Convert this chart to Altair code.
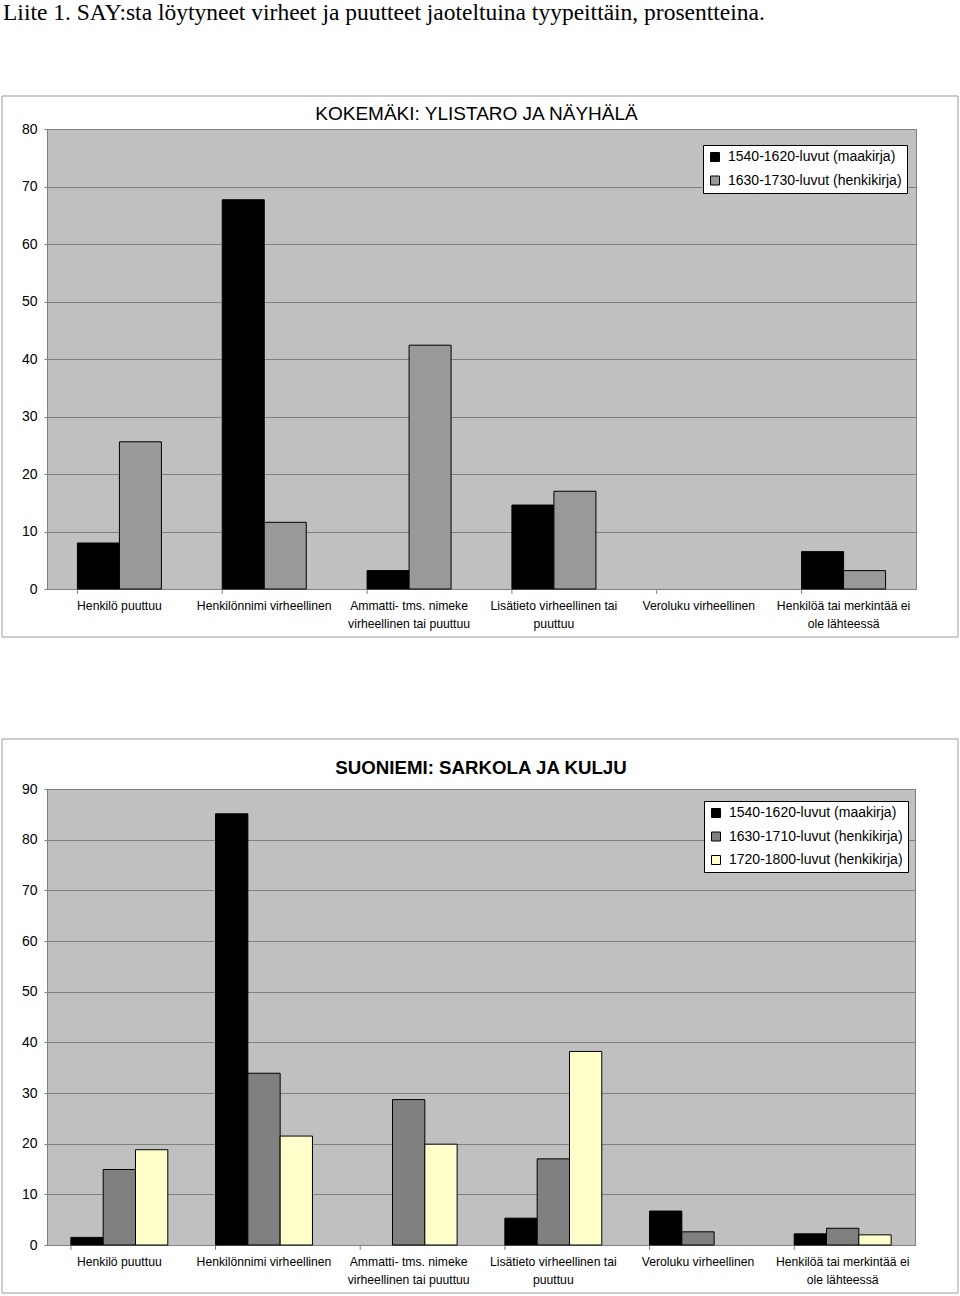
import altair as alt
import pandas as pd

FONT = "Liberation Sans"

categories = [
    "Henkilö puuttuu",
    "Henkilönnimi virheellinen",
    "Ammatti- tms. nimeke|virheellinen tai puuttuu",
    "Lisätieto virheellinen tai|puuttuu",
    "Veroluku virheellinen",
    "Henkilöä tai merkintää ei|ole lähteessä",
]

page_title = "Liite 1. SAY:sta löytyneet virheet ja puutteet jaoteltuina tyypeittäin, prosentteina."

kok_title = "KOKEMÄKI: YLISTARO JA NÄYHÄLÄ"
kok_series = ["1540-1620-luvut (maakirja)", "1630-1730-luvut (henkikirja)"]
kok_colors = ["#000000", "#999999"]
kok_1540 = [8.0, 67.7, 3.2, 14.6, 0.0, 6.5]
kok_1630 = [25.6, 11.6, 42.4, 17.0, 0.0, 3.2]

suo_title = "SUONIEMI: SARKOLA JA KULJU"
suo_series = ["1540-1620-luvut (maakirja)", "1630-1710-luvut (henkikirja)", "1720-1800-luvut (henkikirja)"]
suo_colors = ["#000000", "#808080", "#ffffcc"]
suo_1540 = [1.5, 85.1, 0.0, 5.3, 6.7, 2.2]
suo_1630 = [14.9, 33.9, 28.7, 17.0, 2.6, 3.3]
suo_1720 = [18.8, 21.5, 19.9, 38.2, 0.0, 2.0]


def long_df(series, arrays):
    rows = []
    for s, arr in zip(series, arrays):
        for c, v in zip(categories, arr):
            rows.append({"category": c, "series": s, "value": v})
    return pd.DataFrame(rows)


one = pd.DataFrame({"k": [0]})
cat_df = pd.DataFrame({"category": categories})


def panel(df, series, colors, ymax, W, H, pin, frame, title, title_weight, title_size, title_dx, title_dy, leg_xy, extra=None):
    xaxis = alt.Axis(
        title=None, labelAngle=0, labelExpr="split(datum.label, '|')", ticks=False, domain=False,
        labelPadding=10, labelFontSize=12.2, labelLineHeight=18, labelColor="black",
        labelFont=FONT, labelLimit=0, labelOverlap=False,
    )
    xscale = alt.Scale(domain=categories, paddingInner=pin, paddingOuter=pin / 2)
    bars = alt.Chart(df).transform_filter("datum.value > 0").mark_bar(
        stroke="black", strokeWidth=1
    ).encode(
        x=alt.X("category:N", sort=categories, scale=xscale, axis=xaxis),
        xOffset=alt.XOffset("series:N", sort=series, scale=alt.Scale(domain=series, paddingInner=0, paddingOuter=0)),
        y=alt.Y(
            "value:Q",
            scale=alt.Scale(domain=[0, ymax], nice=False),
            axis=alt.Axis(
                title=None, values=list(range(0, ymax + 1, 10)), tickColor="#808080", tickSize=3,
                domain=False, gridColor="#808080", gridOpacity=1, labelPadding=7, labelFontSize=14,
                labelFont=FONT, labelColor="black",
            ),
        ),
        color=alt.Color(
            "series:N", sort=series,
            scale=alt.Scale(domain=series, range=colors),
            legend=alt.Legend(
                title=None, orient="none", legendX=leg_xy[0], legendY=leg_xy[1],
                fillColor="white", strokeColor="black", padding=5,
                symbolType="square", symbolSize=81, symbolStrokeColor="black", symbolStrokeWidth=1,
                labelFontSize=14, labelFont=FONT, labelColor="black", labelLimit=0,
                rowPadding=9.5, labelOffset=6,
            ),
        ),
    )
    ticks = alt.Chart(cat_df).mark_rule(color="#808080").encode(
        x=alt.X("category:N", sort=categories, bandPosition=0, scale=xscale, axis=xaxis),
        y=alt.value(H), y2=alt.value(H + 5),
    )
    fx0, fx1, fy0, fy1 = frame
    box = alt.Chart(one).mark_rect(fillOpacity=0, stroke="#9a9a9a", strokeWidth=1).encode(
        x=alt.value(fx0), x2=alt.value(fx1), y=alt.value(fy0), y2=alt.value(fy1)
    )
    ttl = alt.Chart(one).mark_text(
        font=FONT, fontSize=title_size, fontWeight=title_weight, color="black", align="center", baseline="middle"
    ).encode(x=alt.value(W / 2 + title_dx), y=alt.value(title_dy), text=alt.value(title))
    layers = [box, ticks, bars, ttl]
    if extra is not None:
        layers.append(extra)
    return alt.layer(*layers).properties(width=W, height=H)


W1, H1 = 869, 460
page = alt.Chart(one).mark_text(
    font="Liberation Serif", fontSize=23.5, color="black", align="left", baseline="alphabetic"
).encode(x=alt.value(-44), y=alt.value(-109), text=alt.value(page_title))

top = panel(
    long_df(kok_series, [kok_1540, kok_1630]), kok_series, kok_colors, 80, W1, H1, 0.42,
    (-45, W1 + 42, -33, H1 + 48), kok_title, "normal", 19, -5, -15, (656, 16), extra=page,
)

W2, H2 = 868, 456
bottom = panel(
    long_df(suo_series, [suo_1540, suo_1630, suo_1720]), suo_series, suo_colors, 90, W2, H2, 0.33,
    (-45, W2 + 43, -50, H2 + 48), suo_title, "bold", 18.7, 0, -21, (657, 12),
)

chart = alt.vconcat(top, bottom, spacing=100).resolve_scale(
    x="independent", y="independent", color="independent", xOffset="independent"
).properties(
    padding={"left": 1, "top": 0, "right": 0, "bottom": 0}, background="white"
).configure_view(fill="#c0c0c0", stroke="#808080", strokeWidth=1)

chart.save("out.html", embed_options={"renderer": "svg", "actions": False})
